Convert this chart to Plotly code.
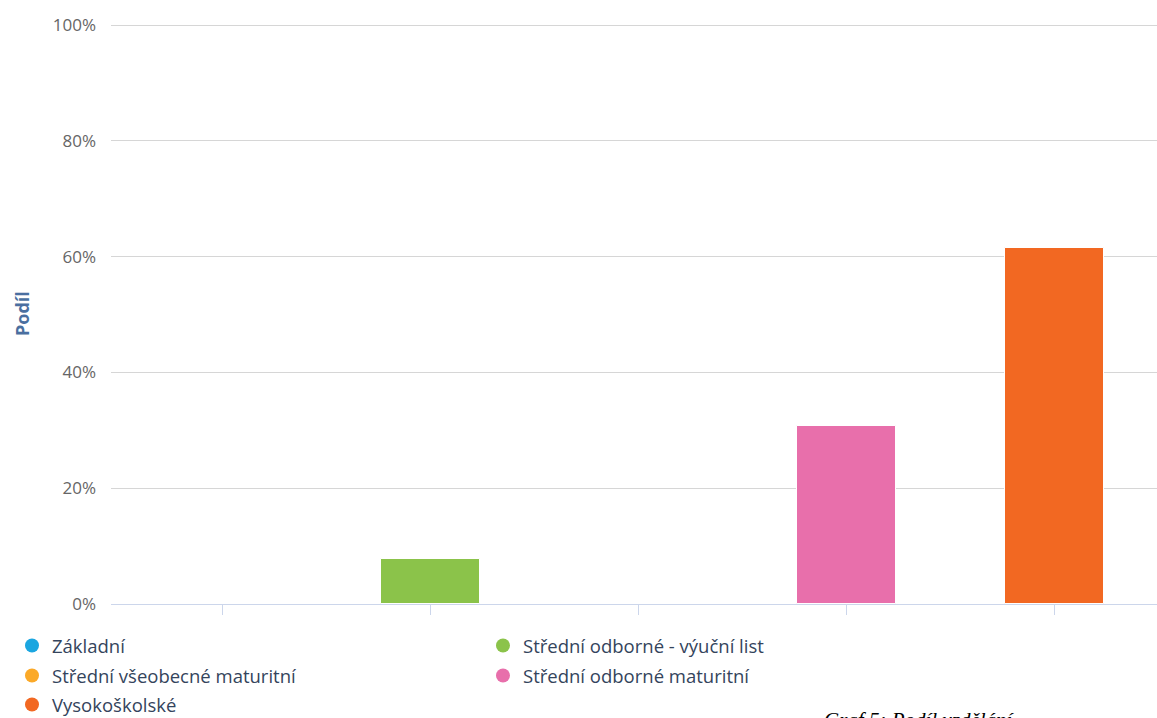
import plotly.graph_objects as go

# data
categories = ["Základní", "Střední odborné - výuční list", "Střední všeobecné maturitní",
              "Střední odborné maturitní", "Vysokoškolské"]
shares = [0.0, 7.69, 0.0, 30.77, 61.54]
colors = ["#1ba6e0", "#8bc34a", "#fba928", "#e86fab", "#f26822"]
y_ticks = [0, 20, 40, 60, 80, 100]
y_tick_labels = ["0%", "20%", "40%", "60%", "80%", "100%"]
caption = "Graf 5: Podíl vzdělání"

W, H = 1157, 718
L, R, T, B = 111, 0, 24, 114
plot_w = W - L - R
plot_h = H - T - B
y_top = 100.2

fig = go.Figure()

# bars, one series per category
for i, (name, val, col) in enumerate(zip(categories, shares, colors)):
    fig.add_trace(go.Bar(
        x=[i], y=[val], name=name,
        marker=dict(color=col, line=dict(color="white", width=1)),
        width=0.476, showlegend=False,
        hovertemplate=name + ": %{y:.1f}%<extra></extra>",
    ))

# legend entries as circles, split in three rows
legend_rows = ["legend", "legend", "legend2", "legend2", "legend3"]
for name, col, lg in zip(categories, colors, legend_rows):
    fig.add_trace(go.Scatter(
        x=[None], y=[None], mode="markers", name=name,
        marker=dict(symbol="circle", size=14, color=col),
        legend=lg, showlegend=True,
    ))


def px_x(p):
    return (p - L) / plot_w


def px_y(p):
    return (H - B - p) / plot_h


legend_font = dict(family="Open Sans, sans-serif", size=18.5, color="#34445c")
leg_common = dict(orientation="h", xanchor="left", yanchor="middle",
                  entrywidth=426, entrywidthmode="pixels",
                  font=legend_font, bgcolor="rgba(0,0,0,0)",
                  itemclick=False, itemdoubleclick=False)

fig.update_layout(
    width=W, height=H,
    margin=dict(l=L, r=R, t=T, b=B, autoexpand=False),
    paper_bgcolor="white", plot_bgcolor="white",
    bargap=0,
    legend=dict(x=px_x(12), y=px_y(646), **leg_common),
    legend2=dict(x=px_x(12), y=px_y(676), **leg_common),
    legend3=dict(x=px_x(12), y=px_y(705), **leg_common),
    xaxis=dict(
        range=[-111 / 208, 4 + 103 / 208],
        tickvals=list(range(len(categories))), ticktext=[""] * len(categories),
        showgrid=False, showline=True, linecolor="#ccd6eb", linewidth=1,
        ticks="outside", ticklen=10, tickcolor="#ccd6eb", tickwidth=1,
        zeroline=False, fixedrange=True,
    ),
    yaxis=dict(
        range=[0, y_top], tickmode="array", tickvals=y_ticks, ticktext=y_tick_labels,
        showgrid=True, gridcolor="#d6d6d6", gridwidth=1,
        zeroline=False, showline=False,
        tickfont=dict(family="Open Sans, sans-serif", size=17, color="#666666"),
        ticklabelstandoff=14, fixedrange=True,
    ),
    annotations=[
        dict(text="<b>Podíl</b>", textangle=-90, xref="paper", yref="paper",
             x=px_x(22), y=px_y(314), xanchor="center", yanchor="middle",
             showarrow=False,
             font=dict(family="Open Sans, sans-serif", size=18, color="#4a6fa0")),
        dict(text="<i>" + caption + "</i>", xref="paper", yref="paper",
             x=px_x(822), y=px_y(706), xanchor="left", yanchor="top",
             showarrow=False,
             font=dict(family="Liberation Serif, Times New Roman, serif", size=21,
                       color="#000000")),
    ],
)

fig.write_html("out.html", config={"displayModeBar": False},
               post_script="document.body.style.margin='0px';")
